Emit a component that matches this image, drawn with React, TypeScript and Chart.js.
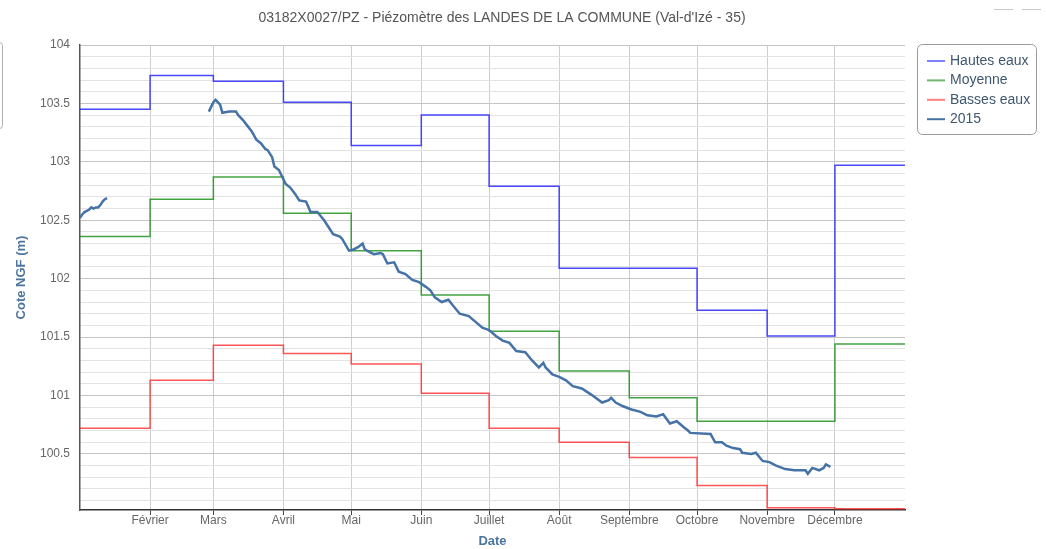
import React, { useEffect, useRef } from 'react';
import { Chart, registerables } from 'chart.js';

Chart.register(...registerables);

// ---- Data ----
const chartTitle = "03182X0027/PZ - Piézomètre des LANDES DE LA COMMUNE (Val-d'Izé - 35)";
const monthStartDays = [0, 31, 59, 90, 120, 151, 181, 212, 243, 273, 304, 334];
const yearEndDay = 365;
const monthLabels = ['Janvier', 'Février', 'Mars', 'Avril', 'Mai', 'Juin', 'Juillet', 'Août', 'Septembre', 'Octobre', 'Novembre', 'Décembre'];

const hautesEaux = [103.45, 103.74, 103.69, 103.51, 103.14, 103.40, 102.79, 102.09, 102.09, 101.73, 101.51, 102.97];
const moyenne = [102.36, 102.68, 102.87, 102.56, 102.24, 101.86, 101.55, 101.21, 100.98, 100.78, 100.78, 101.44];
const bassesEaux = [100.72, 101.13, 101.43, 101.36, 101.27, 101.02, 100.72, 100.60, 100.47, 100.23, 100.04, 100.03];

const days2015 = [
  0, 1, 2, 3, 4, 5, 6, 7, 8, 9, 10, 11, 12,
  30,
  57, 59, 60, 62, 63, 66, 69, 70, 72, 74, 76, 78, 80, 82, 83, 85, 86, 88, 91, 93, 95, 97,
  100, 102, 105, 108, 110, 112, 115, 116, 119, 121, 123, 125, 126, 128, 130, 133, 134, 136, 139,
  141, 144, 147, 150, 153, 155, 157, 160, 163, 165, 168, 172, 175, 178, 181, 184, 187, 190, 193, 197,
  200, 203, 205, 206, 209, 212, 215, 218, 222, 226, 231, 234, 235, 237, 240, 244, 248, 251, 255, 258,
  261, 264, 267, 269, 270, 279, 281, 284, 286, 289, 292, 293, 297, 299, 302, 305, 308, 312, 316, 321,
  322, 324, 327, 329, 330, 332,
];
const values2015 = [
  102.52, 102.55, 102.57, 102.58, 102.59, 102.61, 102.60, 102.61, 102.61, 102.63, 102.66, 102.68, 102.69,
  null,
  103.43, 103.51, 103.53, 103.49, 103.42, 103.43, 103.43, 103.40, 103.36, 103.31, 103.26, 103.19, 103.16, 103.11, 103.10, 103.04, 102.96, 102.93, 102.81, 102.78, 102.73, 102.67,
  102.66, 102.57, 102.57, 102.50, 102.44, 102.38, 102.36, 102.34, 102.24, 102.25, 102.27, 102.30, 102.25, 102.23, 102.21, 102.22, 102.21, 102.13, 102.14,
  102.06, 102.04, 101.99, 101.97, 101.93, 101.90, 101.84, 101.80, 101.82, 101.77, 101.70, 101.68, 101.63, 101.58, 101.56, 101.51, 101.47, 101.45, 101.38, 101.37,
  101.30, 101.24, 101.28, 101.24, 101.18, 101.16, 101.13, 101.08, 101.06, 101.01, 100.94, 100.96, 100.98, 100.94, 100.91, 100.88, 100.86, 100.83, 100.82, 100.84,
  100.76, 100.78, 100.73, 100.70, 100.68, 100.67, 100.60, 100.60, 100.57, 100.55, 100.54, 100.51, 100.50, 100.51, 100.44, 100.43, 100.40, 100.37, 100.36, 100.36,
  100.33, 100.38, 100.36, 100.38, 100.41, 100.39,
];

const yMin = 100.02;
const yMax = 104;
const yTickLabels = ['100.5', '101', '101.5', '102', '102.5', '103', '103.5', '104'];

const seriesNames = ['Hautes eaux', 'Moyenne', 'Basses eaux', '2015'];
const seriesColors = ['rgba(40,40,255,0.85)', 'rgba(20,140,20,0.8)', 'rgba(255,30,30,0.75)', '#4572A7'];
const legendColors = ['#8080ff', '#70b870', '#ff8080', '#4572A7'];

const FONT = '"Liberation Sans", Arial, sans-serif';

const stepData = (arr: number[]) =>
  monthStartDays.map((d, i) => ({ x: d, y: arr[i] })).concat([{ x: yearEndDay, y: arr[arr.length - 1] }]);

const isMajor = (v: number) => yTickLabels.includes(String(Math.round(v * 10) / 10));

const decorPlugin = {
  id: 'decor',
  afterDraw(chart: any) {
    const ctx = chart.ctx;
    ctx.save();
    // title
    ctx.font = `14px ${FONT}`;
    ctx.fillStyle = '#555555';
    ctx.textAlign = 'center';
    ctx.textBaseline = 'middle';
    ctx.fillText(chartTitle, 502, 18);

    // legend box
    const bx = 917.5, by = 44.5, bw = 119, bh = 90, r = 5;
    ctx.beginPath();
    ctx.moveTo(bx + r, by);
    ctx.arcTo(bx + bw, by, bx + bw, by + bh, r);
    ctx.arcTo(bx + bw, by + bh, bx, by + bh, r);
    ctx.arcTo(bx, by + bh, bx, by, r);
    ctx.arcTo(bx, by, bx + bw, by, r);
    ctx.closePath();
    ctx.fillStyle = '#ffffff';
    ctx.fill();
    ctx.strokeStyle = '#9a9a9a';
    ctx.lineWidth = 1;
    ctx.stroke();

    ctx.font = `14px ${FONT}`;
    ctx.textAlign = 'left';
    seriesNames.forEach((name, i) => {
      const y = 61 + i * 19.4;
      ctx.strokeStyle = legendColors[i];
      ctx.lineWidth = 2;
      ctx.beginPath();
      ctx.moveTo(927, y);
      ctx.lineTo(945, y);
      ctx.stroke();
      ctx.fillStyle = '#3E576F';
      ctx.fillText(name, 950, y);
    });

    // partial frame on the left edge
    ctx.strokeStyle = '#b0b0b0';
    ctx.lineWidth = 1;
    ctx.beginPath();
    ctx.moveTo(-10, 42.5);
    ctx.arcTo(2.5, 42.5, 2.5, 128.5, 3);
    ctx.arcTo(2.5, 128.5, -10, 128.5, 3);
    ctx.lineTo(-10, 128.5);
    ctx.stroke();

    // export button fragment top-right
    ctx.strokeStyle = '#c8c8c8';
    ctx.beginPath();
    ctx.moveTo(994, 9.5);
    ctx.lineTo(1013, 9.5);
    ctx.moveTo(1022, 9.5);
    ctx.lineTo(1041, 9.5);
    ctx.stroke();
    ctx.restore();
  },
};

export default function App() {
  const canvasRef = useRef<HTMLCanvasElement | null>(null);

  useEffect(() => {
    if (!canvasRef.current) return;
    const chart = new Chart(canvasRef.current, {
      type: 'line',
      data: {
        datasets: [
          {
            label: seriesNames[3],
            data: days2015.map((d, i) => ({ x: d, y: values2015[i] })),
            borderColor: seriesColors[3],
            borderWidth: 2.5,
            pointRadius: 0,
            tension: 0,
            spanGaps: false,
          },
          {
            label: seriesNames[0],
            data: stepData(hautesEaux),
            borderColor: seriesColors[0],
            borderWidth: 1.5,
            pointRadius: 0,
            stepped: 'before',
          },
          {
            label: seriesNames[1],
            data: stepData(moyenne),
            borderColor: seriesColors[1],
            borderWidth: 1.5,
            pointRadius: 0,
            stepped: 'before',
          },
          {
            label: seriesNames[2],
            data: stepData(bassesEaux),
            borderColor: seriesColors[2],
            borderWidth: 1.5,
            pointRadius: 0,
            stepped: 'before',
          },
        ],
      } as any,
      options: {
        animation: false,
        responsive: false,
        events: [],
        layout: { padding: { left: 0, top: 45, right: 141, bottom: 0 } },
        plugins: {
          legend: { display: false },
          title: { display: false },
          tooltip: { enabled: false },
        },
        scales: {
          x: {
            type: 'linear',
            min: 0,
            max: yearEndDay,
            afterBuildTicks: (s: any) => {
              s.ticks = monthStartDays.slice(1).map((v) => ({ value: v }));
            },
            afterFit: (s: any) => {
              s.height = 39;
            },
            ticks: {
              autoSkip: false,
              maxRotation: 0,
              padding: -2,
              color: '#666666',
              font: { family: FONT, size: 12 },
              callback: (v: any) => {
                const i = monthStartDays.indexOf(Number(v));
                return i >= 0 ? monthLabels[i] : '';
              },
            },
            grid: { color: '#cdcdcd', lineWidth: 1, tickLength: 5, tickColor: '#444444', drawTicks: true },
            border: { color: '#333333', width: 1.5 },
            title: {
              display: true,
              text: 'Date',
              color: '#4d759e',
              font: { family: FONT, size: 13, weight: 'bold' },
              padding: { top: 0, bottom: 0 },
            },
          },
          y: {
            type: 'linear',
            min: yMin,
            max: yMax,
            afterBuildTicks: (s: any) => {
              const t: any[] = [];
              for (let i = 1001; i <= 1040; i++) t.push({ value: i / 10 });
              s.ticks = t;
            },
            afterFit: (s: any) => {
              s.width = 80;
            },
            ticks: {
              autoSkip: false,
              padding: 10,
              color: '#666666',
              font: { family: FONT, size: 12 },
              callback: (v: any) => (isMajor(Number(v)) ? String(Math.round(Number(v) * 10) / 10) : ''),
            },
            grid: {
              drawTicks: false,
              color: (c: any) => (c.tick && isMajor(c.tick.value) ? '#c4c4c4' : '#e3e3e3'),
              lineWidth: 1,
            },
            border: { color: '#555555', width: 1.5 },
            title: {
              display: true,
              text: 'Cote NGF (m)',
              color: '#4d759e',
              font: { family: FONT, size: 13, weight: 'bold' },
              padding: { top: 14, bottom: 0 },
            },
          },
        },
      } as any,
      plugins: [decorPlugin],
    });
    return () => chart.destroy();
  }, []);

  return (
    <div style={{ position: 'absolute', left: 0, top: 0, width: 1046, height: 549, background: '#fff' }}>
      <canvas ref={canvasRef} width={1046} height={549} style={{ display: 'block' }} />
    </div>
  );
}
